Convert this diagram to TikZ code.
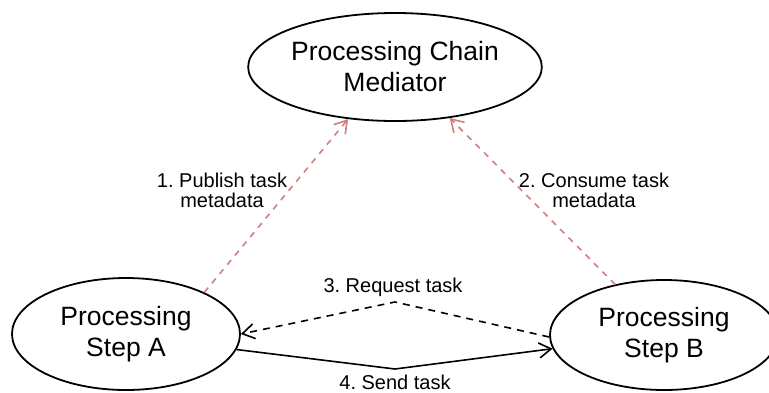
\documentclass[tikz,border=0pt]{standalone}
\usepackage{fontspec}
\setmainfont{Liberation Sans}
\usetikzlibrary{arrows.meta,shapes.geometric}
\definecolor{pubred}{RGB}{208,126,126}
\tikzset{
  ell/.style={draw=black, line width=1.8pt, ellipse, inner sep=0pt, align=center,
    font=\fontsize{26.5}{31}\selectfont},
  lbl/.style={align=center, inner sep=0pt, font=\fontsize{20}{20}\selectfont\frenchspacing},
  tip/.style={-{Straight Barb[length=12pt,width=15pt,line width=1.6pt]}},
  redarrow/.style={tip, draw=pubred, line width=1.6pt, dash pattern=on 6pt off 6pt},
  blkdash/.style={tip, draw=black, line width=1.6pt, dash pattern=on 7pt off 6pt},
  blksolid/.style={tip, draw=black, line width=1.6pt}
}
\begin{document}
\frenchspacing
\begin{tikzpicture}[x=1pt,y=-1pt]
\useasboundingbox (0,0) rectangle (769,392);
\node[ell, minimum width=272pt, minimum height=108pt] (M) at (395,67) {Processing Chain\\Mediator};
\node[ell, minimum width=228pt, minimum height=112pt] (A) at (126,334) {Processing\\Step A};
\node[ell, minimum width=228pt, minimum height=110pt] (B) at (664,335) {Processing\\Step B};
\coordinate (p3) at (395,302);
\coordinate (p4) at (395,369);
\draw[redarrow] (A.28) -- (M.228);
\draw[redarrow] (B.134) -- (M.317);
\draw[blkdash] (B.181) -- (p3) -- (A.0);
\draw[blksolid] (A.352) -- (p4) -- (B.187);
\node[lbl] (l1) at (222,190) {1. Publish task\\metadata};
\node[lbl] (l2) at (594,190) {2. Consume task\\metadata};
\node[lbl] (l3) at (393,287) {3. Request task};
\node[lbl] (l4) at (395,382) {4. Send task};
\end{tikzpicture}
\end{document}
